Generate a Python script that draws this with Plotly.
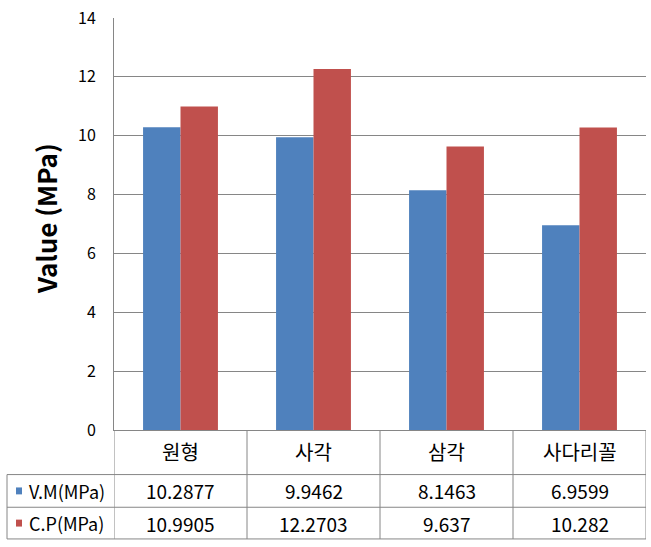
import plotly.graph_objects as go

categories = ["원형", "사각", "삼각", "사다리꼴"]
series_names = ["V.M(MPa)", "C.P(MPa)"]
vm_values = [10.2877, 9.9462, 8.1463, 6.9599]
cp_values = [10.9905, 12.2703, 9.637, 10.282]
y_ticks = [0, 2, 4, 6, 8, 10, 12, 14]
colors = ["#4F81BD", "#C0504D"]

FONT = "'Noto Sans CJK KR', sans-serif"
KFONT = "'Noto Sans CJK KR', sans-serif"
GRID = "#868686"

W, H = 651, 547
L, R, T, B = 114, 5, 14, 117
pw, ph = W - L - R, H - T - B


def px(xp):
    return (xp - L) / pw


def py(yp):
    return (H - B - yp) / ph


fig = go.Figure()
for name, vals, c in zip(series_names, [vm_values, cp_values], colors):
    fig.add_trace(go.Bar(x=categories, y=vals, name=name, marker=dict(color=c, line=dict(width=0))))

shapes = []
line = dict(color=GRID, width=1)
for b in [-0.5, 0.5, 1.5, 2.5, 3.5]:
    shapes.append(dict(type="line", xref="x", yref="paper", x0=b, x1=b, y0=py(430), y1=py(540), line=line))
for yy in [475, 508, 540]:
    shapes.append(dict(type="line", xref="paper", yref="paper", x0=px(7), x1=1, y0=py(yy), y1=py(yy), line=line))
shapes.append(dict(type="line", xref="paper", yref="paper", x0=px(7), x1=px(7), y0=py(475), y1=py(540), line=line))
for yc, c in zip([491.5, 524], colors):
    shapes.append(dict(type="rect", xref="paper", yref="paper", x0=px(16), x1=px(22), y0=py(yc - 3.5), y1=py(yc + 3.5),
                       fillcolor=c, line=dict(width=0)))

ann = []
for cat in categories:
    ann.append(dict(x=cat, y=py(452), xref="x", yref="paper", text=cat, showarrow=False,
                    font=dict(family=KFONT, size=20, color="#000000"), xanchor="center", yanchor="middle"))
for name, vals, yc in zip(series_names, [vm_values, cp_values], [491.5, 524]):
    ann.append(dict(x=px(27), y=py(yc), xref="paper", yref="paper", text=name, showarrow=False,
                    font=dict(family=FONT, size=18, color="#000000"), xanchor="left", yanchor="middle"))
    for cat, v in zip(categories, vals):
        ann.append(dict(x=cat, y=py(yc), xref="x", yref="paper", text=str(v), showarrow=False,
                        font=dict(family=FONT, size=19, color="#000000"), xanchor="center", yanchor="middle"))
ann.append(dict(x=px(45), y=py(217), xref="paper", yref="paper", text="<b>Value (MPa)</b>", showarrow=False,
                textangle=-90, font=dict(family=FONT, size=26, color="#000000"), xanchor="center", yanchor="middle"))

fig.update_layout(
    width=W, height=H,
    margin=dict(l=L, r=R, t=T, b=B, pad=0),
    paper_bgcolor="white", plot_bgcolor="white",
    barmode="group", bargap=0.437, bargroupgap=0,
    showlegend=False,
    shapes=shapes, annotations=ann,
    xaxis=dict(type="category", range=[-0.5, 3.5], showticklabels=False, showgrid=False,
               showline=True, linecolor=GRID, linewidth=1, ticks="", zeroline=False, fixedrange=True),
    yaxis=dict(range=[0, 14], tickvals=y_ticks, showgrid=True, gridcolor=GRID, gridwidth=1,
               showline=True, linecolor=GRID, linewidth=1, zeroline=False, ticks="",
               ticklabelstandoff=14,
               tickfont=dict(family=FONT, size=16, color="#000000")),
)

fig.write_html("out.html")
